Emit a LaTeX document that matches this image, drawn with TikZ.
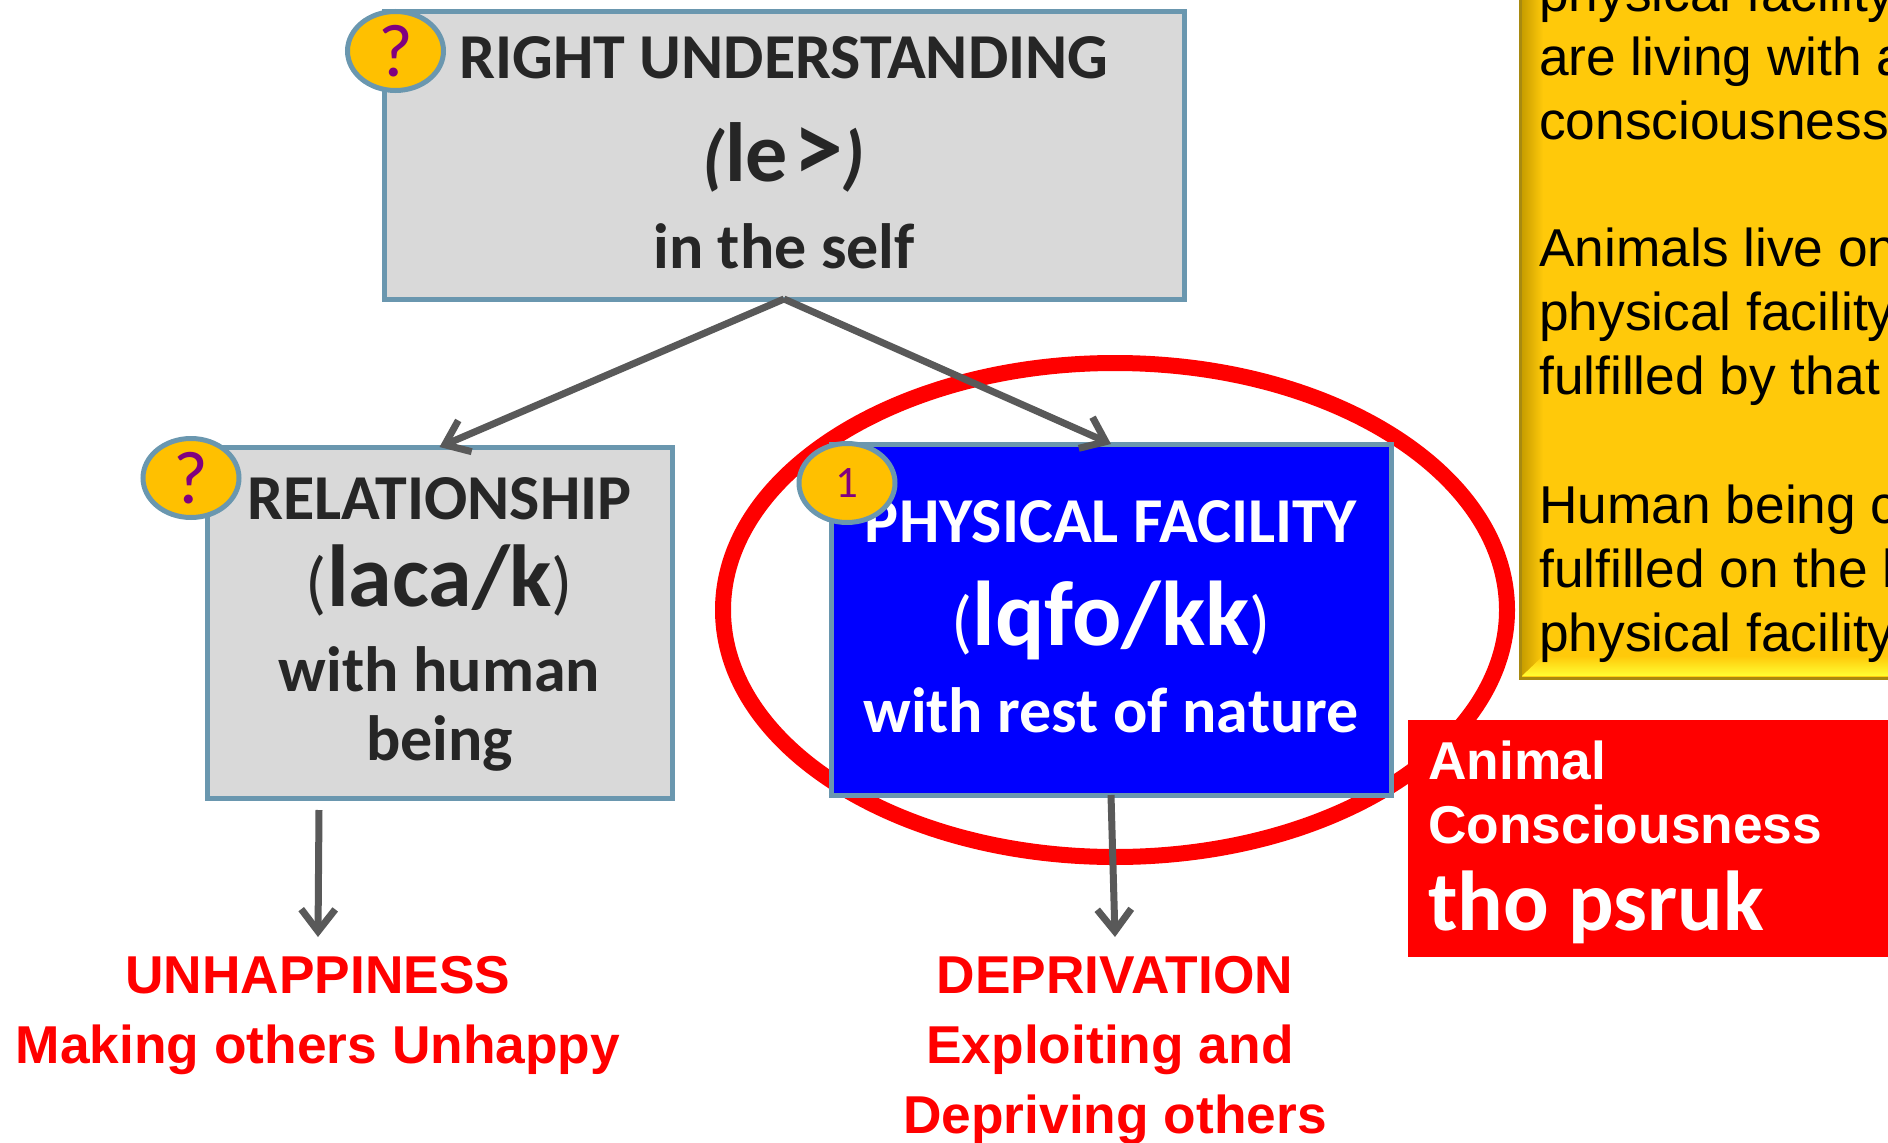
\documentclass[tikz,border=0pt]{standalone}
\usepackage{fontspec}
\setmainfont{Carlito}
\newfontfamily\arialfont{Liberation Sans}
\usetikzlibrary{arrows.meta,shapes.geometric}
\definecolor{boxline}{HTML}{6A97AF}
\definecolor{boxfill}{HTML}{D9D9D9}
\definecolor{boxtext}{HTML}{262626}
\definecolor{badgefill}{HTML}{FFC000}
\definecolor{notefill}{HTML}{FFC90A}
\definecolor{noteedge}{HTML}{C89E00}
\definecolor{noterim}{HTML}{A88A10}
\definecolor{arrowgray}{HTML}{595959}
\newcommand{\fs}[1]{\fontsize{#1}{#1}\selectfont}

\begin{document}
\begin{tikzpicture}
				[x=1pt,y=-1pt,
				box/.style={rectangle,draw=boxline,fill=boxfill,text=boxtext,line width=5pt,inner sep=0pt,outer sep=0pt,align=center,font=\fs{64}\bfseries},
				badge/.style={ellipse,draw=boxline,fill=badgefill,text={rgb,255:red,128;green,0;blue,128},line width=5pt,inner sep=0pt,outer sep=0pt,minimum width=96pt,minimum height=79pt},
				edge/.style={-{Straight Barb[length=22pt,width=34pt,line width=7pt]},draw=arrowgray,line width=7pt},
				result/.style={text=red,align=center,inner sep=0pt,outer sep=19pt,font=\arialfont\fs{53.3}\bfseries},
				note/.style={anchor=north west,align=left,inner sep=0pt,font=\arialfont\fontsize{53.3}{64}\selectfont}]
				\useasboundingbox (0,0) rectangle (1888,1143);
				\clip (0,0) rectangle (1888,1143);

				\node[ellipse,draw=red,line width=16pt,inner sep=0pt,outer sep=0pt,minimum width=784pt,minimum height=494pt] (ring) at (1115,610) {};

				\node[box,text depth=5pt,minimum width=800pt,minimum height=288pt] (top) at (784,155)
					{RIGHT UNDERSTANDING\\[39pt]
					{\fs{72}\itshape(}{\fs{84}le\hspace{5pt}}{\fs{100}>}{\fs{72}\itshape)}\\[23pt]
					in the self};
				\node[box,text depth=7pt,minimum width=465pt,minimum height=351pt] (rel) at (439.5,622.5)
					{RELATIONSHIP\\[23pt]
					{\fontsize{70}{70}\selectfont\mdseries(}{\fs{88}laca/k}{\fontsize{70}{70}\selectfont\mdseries)}\\[21pt]
					with human\\[5pt]
					being};
				\node[box,text depth=6pt,fill=blue,text=white,minimum width=560pt,minimum height=351pt] (phy) at (1111,619.5)
					{PHYSICAL FACILITY\\[37pt]
					{\fontsize{70}{70}\selectfont\mdseries(}{\fs{92}lqfo/kk}{\fontsize{70}{70}\selectfont\mdseries)}\\[23pt]
					with rest of nature};

				\fill[notefill] (1520,-10) rectangle (1900,678);
				\shade[left color=noteedge,right color=notefill] (1522,-10) -- (1543,-10) -- (1543,656) -- (1522,676) -- cycle;
				\shade[top color=notefill,bottom color=yellow!80!white] (1522,676) -- (1543,656) -- (1900,656) -- (1900,676) -- cycle;
				\draw[noterim,line width=3pt] (1520,-10) -- (1520,678) -- (1900,678);
				\node[note] (note1) at (1539,-27.5) {physical facility\\are living with a\\consciousness};
				\node[note] (note2) at (1539,227.5) {Animals live on\\physical facility\\fulfilled by that};
				\node[note] (note3) at (1539,484.5) {Human being c\\fulfilled on the l\\physical facility};

				\node[rectangle,fill=red,text=white,anchor=north west,minimum width=480pt,minimum height=237pt,inner sep=0pt] (tag) at (1408,720) {};
				\node[anchor=base west,inner sep=0pt,text=white,align=left,font=\arialfont\fs{53.3}\bfseries] (tag1) at (1428,779) {Animal};
				\node[anchor=base west,inner sep=0pt,text=white,align=left,font=\arialfont\fs{53.3}\bfseries] (tag2) at (1428,843) {Consciousness};
				\node[anchor=base west,inner sep=0pt,text=white,font=\fs{85}\bfseries] (tag3) at (1428,930) {tho psruk};

				\node[result,anchor=north] (unhappy) at (318,937) {UNHAPPINESS\\[17pt]Making others Unhappy};
				\node[result,anchor=north] (depriv) at (1115,937) {DEPRIVATION\\[17pt]Exploiting and\hspace*{10pt}\mbox{}\\[17pt]Depriving others};

				\coordinate (relout) at (319,810);

				\draw[edge] (top.south) to (rel.north);
				\draw[edge] (top.south) to (phy.north);
				\draw[edge] (relout) to (unhappy.north);
				\draw[edge] (phy.south) to (depriv.north);

				\node[badge,font=\fontsize{75}{75}\selectfont] (q1) at (395.5,51) {?};
				\node[badge,font=\fontsize{75}{75}\selectfont] (q2) at (191,478) {?};
				\node[badge,font=\fontsize{45}{45}\selectfont] (q3) at (847,483) {1};
\end{tikzpicture}
\end{document}
